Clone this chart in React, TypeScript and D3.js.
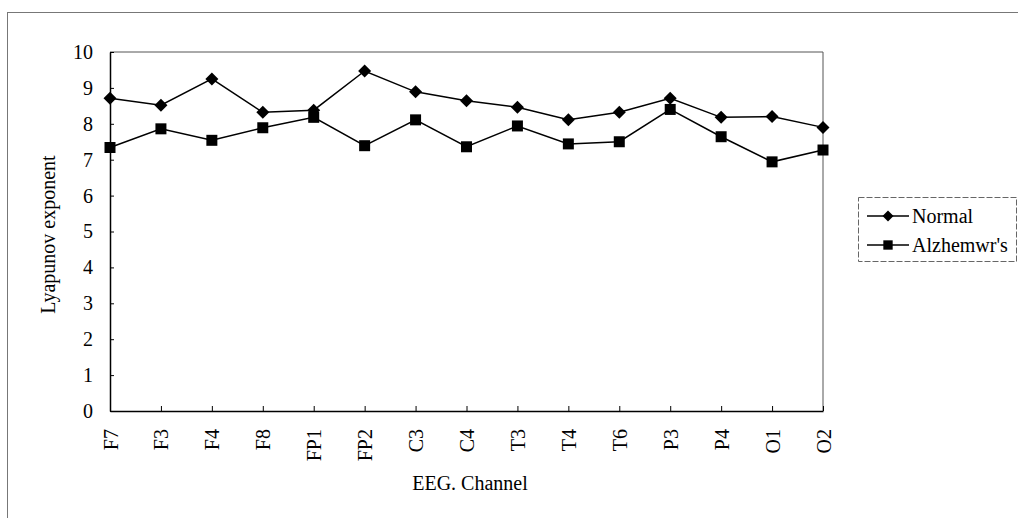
import * as d3 from 'd3';
import { useEffect, useRef } from 'react';

const channels = ['F7', 'F3', 'F4', 'F8', 'FP1', 'FP2', 'C3', 'C4', 'T3', 'T4', 'T6', 'P3', 'P4', 'O1', 'O2'];
const normal = [8.71, 8.52, 9.25, 8.32, 8.38, 9.47, 8.89, 8.64, 8.46, 8.11, 8.32, 8.71, 8.18, 8.2, 7.9];
const alzheimers = [7.34, 7.86, 7.54, 7.89, 8.18, 7.39, 8.11, 7.36, 7.94, 7.44, 7.5, 8.4, 7.64, 6.94, 7.27];
const yTicks = [0, 1, 2, 3, 4, 5, 6, 7, 8, 9, 10];
const seriesNames = ['Normal', "Alzhemwr's"];

const W = 1018;
const H = 518;
const font = "'Liberation Serif', 'Times New Roman', serif";
const fontSize = '20px';

// marker shapes: diamond is a square turned 45 degrees
const diamondPath = 'M0,-6.5L6.5,0L0,6.5L-6.5,0Z';
const squarePath = 'M-5.5,-5.5H5.5V5.5H-5.5Z';

function App() {
  const svgElement = useRef<SVGSVGElement | null>(null);

  useEffect(() => {
    const svg = d3.select(svgElement.current);
    svg.selectAll('*').remove();

    const x = d3.scalePoint<string>().domain(channels).range([110, 823]);
    const y = d3.scaleLinear().domain([0, 10]).range([411, 52]);

    // outer chart border (only top/left visible)
    svg
      .append('rect')
      .attr('x', 7.5)
      .attr('y', 12.5)
      .attr('width', W + 20)
      .attr('height', H + 20)
      .attr('fill', 'none')
      .attr('stroke', '#777')
      .attr('stroke-width', 1);

    // plot area top/right edges
    svg
      .append('path')
      .attr('d', `M${x('F7')},${y(10)}H${x('O2')}V${y(0)}`)
      .attr('fill', 'none')
      .attr('stroke', '#555')
      .attr('stroke-width', 1);

    // y axis
    const yAxis = svg
      .append('g')
      .attr('transform', `translate(${x('F7')},0)`)
      .call(d3.axisLeft(y).tickValues(yTicks).tickSize(-4).tickSizeOuter(0).tickPadding(17));
    yAxis.select('.domain').attr('stroke', '#000').attr('stroke-width', 1.5);
    yAxis.selectAll('line').attr('stroke', '#000');
    yAxis
      .selectAll('text')
      .style('font-family', font)
      .style('font-size', fontSize)
      .attr('fill', '#000');

    // x axis
    const xAxis = svg
      .append('g')
      .attr('transform', `translate(0,${y(0)})`)
      .call(d3.axisBottom(x).tickSize(-5).tickSizeOuter(0));
    xAxis.select('.domain').attr('stroke', '#000').attr('stroke-width', 1.5);
    xAxis.selectAll('line').attr('stroke', '#000');
    xAxis
      .selectAll('text')
      .attr('transform', 'rotate(-90)')
      .attr('x', -18)
      .attr('y', 0)
      .attr('dy', '0.35em')
      .attr('text-anchor', 'end')
      .style('font-family', font)
      .style('font-size', fontSize)
      .attr('fill', '#000');

    const line = d3
      .line<number>()
      .x((_, i) => x(channels[i]) ?? 0)
      .y((d) => y(d));

    [normal, alzheimers].forEach((vals, si) => {
      svg
        .append('path')
        .datum(vals)
        .attr('d', line)
        .attr('fill', 'none')
        .attr('stroke', '#000')
        .attr('stroke-width', 1.5);
      svg
        .selectAll(`.m${si}`)
        .data(vals)
        .join('path')
        .attr('class', `m${si}`)
        .attr('transform', (d, i) => `translate(${x(channels[i])},${y(d)})`)
        .attr('d', si === 0 ? diamondPath : squarePath)
        .attr('fill', '#000');
    });

    // axis titles
    svg
      .append('text')
      .attr('x', 470)
      .attr('y', 490)
      .attr('text-anchor', 'middle')
      .style('font-family', font)
      .style('font-size', fontSize)
      .text('EEG. Channel');
    svg
      .append('text')
      .attr('transform', `translate(55,${(y(0) + y(10)) / 2 + 3}) rotate(-90)`)
      .attr('text-anchor', 'middle')
      .style('font-family', font)
      .style('font-size', fontSize)
      .text('Lyapunov exponent');

    // legend
    const legend = svg.append('g');
    legend
      .append('rect')
      .attr('x', 858.5)
      .attr('y', 197.5)
      .attr('width', 158)
      .attr('height', 64)
      .attr('fill', 'none')
      .attr('stroke', '#666')
      .attr('stroke-dasharray', '6,2');
    seriesNames.forEach((name, i) => {
      const ly = 216 + i * 29;
      legend
        .append('line')
        .attr('x1', 867)
        .attr('x2', 909)
        .attr('y1', ly)
        .attr('y2', ly)
        .attr('stroke', '#000')
        .attr('stroke-width', 1.5);
      legend
        .append('path')
        .attr('transform', `translate(888,${ly}) scale(0.85)`)
        .attr('d', i === 0 ? diamondPath : squarePath)
        .attr('fill', '#000');
      legend
        .append('text')
        .attr('x', 912)
        .attr('y', ly + 7)
        .style('font-family', font)
        .style('font-size', fontSize)
        .text(name);
    });
  }, []);

  return (
    <svg
      ref={svgElement}
      width={W}
      height={H}
      style={{ position: 'absolute', left: 0, top: 0, background: '#fff' }}
    />
  );
}

export default App;
